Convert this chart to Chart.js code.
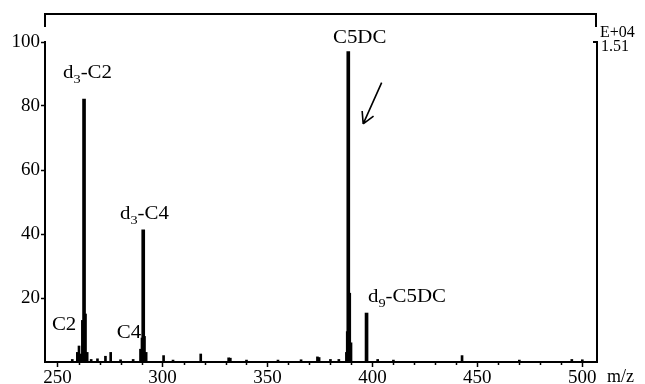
<!DOCTYPE html>
<html>
<head>
<meta charset="utf-8">
<script src="https://cdn.jsdelivr.net/npm/chart.js@4.4.1/dist/chart.umd.min.js"></script>
<style>
  html, body { margin: 0; padding: 0; background: #fff; }
  #wrap { width: 645px; height: 384px; }
</style>
</head>
<body>
<div id="wrap"><canvas id="ms"></canvas></div>
<script>
// ---- Data ----
// main peaks
const peakMz  = [262.6, 290.8, 388.5, 397.2];
const peakInt = [82.2, 41.3, 97.0, 15.3];
// shoulders / unlabelled analytes and baseline noise
const minorMz  = [257.0, 259.4, 260.2, 261.0, 261.8, 263.3, 264.1, 266.0, 269.0, 272.8, 275.3, 280.0, 286.0,
                  289.5, 290.2, 291.4, 292.2, 300.5, 305.0, 318.2, 331.5, 332.3, 340.0, 355.0, 366.0,
                  373.8, 374.6, 380.0, 384.0, 387.6, 388.0, 389.2, 389.8, 402.5, 410.0, 442.7, 470.0, 495.0, 500.0];
const minorInt = [0.8, 3.0, 5.0, 2.5, 13.0, 15.0, 3.0, 0.8, 1.0, 1.8, 3.0, 0.7, 0.8,
                  4.0, 7.5, 8.0, 3.0, 2.0, 0.6, 2.5, 1.3, 1.2, 0.6, 0.6, 0.7,
                  1.6, 1.4, 0.8, 0.8, 3.0, 9.5, 21.5, 6.0, 0.8, 0.6, 2.0, 0.6, 0.8, 0.7];

// axes
const xMin = 244, xMax = 507;
const xMajorTicks = [250, 300, 350, 400, 450, 500];
const xMinorTicks = [260, 270, 280, 290, 310, 320, 330, 340, 360, 370, 380, 390, 410, 420, 430, 440, 460, 470, 480, 490];
const yTicks = [0, 20, 40, 60, 80, 100];

// peak labels: '_' marks a one-character subscript; anchor = [m/z, intensity] of text left/baseline
const labelText   = ['d_3-C2', 'd_3-C4', 'C5DC', 'd_9-C5DC', 'C2', 'C4'];
const labelAnchor = [[252.6, 88.8], [279.7, 44.6], [381.2, 99.6], [397.9, 18.7], [247.3, 10.0], [278.2, 7.6]];
const arrowFrom = [404.4, 87.3];
const arrowTo   = [395.6, 74.4];
const scaleNote = ['E+04', '1.51'];
const xUnit = 'm/z';

const FONT = "'Liberation Serif', 'Times New Roman', serif";
const STRETCH = 1.1; // the original lettering is a little wide

// draw text left/baseline at (x, y), widened; returns advance width
function wideText(ctx, str, x, y, k = STRETCH) {
    ctx.save();
    ctx.translate(x, y);
    ctx.scale(k, 1);
    ctx.fillText(str, 0, 0);
    ctx.restore();
    return ctx.measureText(str).width * k;
}

// ---- Decorations: frame, right axis, minor ticks, labels, arrow ----
const decor = {
    id: 'decor',
    afterDraw(chart) {
        const { ctx, chartArea: a, scales } = chart;
        const xs = scales.x, ys = scales.y;
        ctx.save();
        ctx.strokeStyle = '#000';
        ctx.fillStyle = '#000';
        ctx.lineWidth = 2;
        ctx.lineCap = 'butt';

        // top bracket frame
        const fTop = a.top - 28;
        ctx.beginPath();
        ctx.moveTo(a.left, fTop + 13);
        ctx.lineTo(a.left, fTop);
        ctx.lineTo(a.right - 1, fTop);
        ctx.lineTo(a.right - 1, fTop + 13);
        ctx.stroke();

        // right axis with tick at top
        ctx.beginPath();
        ctx.moveTo(a.right - 4, a.top);
        ctx.lineTo(a.right, a.top);
        ctx.lineTo(a.right, a.bottom + 1);
        ctx.stroke();

        // minor x ticks
        ctx.lineWidth = 1.5;
        xMinorTicks.forEach(v => {
            const px = Math.round(xs.getPixelForValue(v)) + 0.5;
            ctx.beginPath();
            ctx.moveTo(px, a.bottom);
            ctx.lineTo(px, a.bottom + 3);
            ctx.stroke();
        });

        // peak labels
        const big = '19px ' + FONT, small = '13px ' + FONT;
        ctx.textBaseline = 'alphabetic';
        ctx.textAlign = 'left';
        labelText.forEach((t, i) => {
            let x = xs.getPixelForValue(labelAnchor[i][0]);
            const y = ys.getPixelForValue(labelAnchor[i][1]);
            const parts = t.split('_');
            ctx.font = big;
            x += wideText(ctx, parts[0], x, y);
            if (parts.length > 1) {
                const sub = parts[1].charAt(0), rest = parts[1].slice(1);
                ctx.font = small;
                x += wideText(ctx, sub, x, y + 5);
                ctx.font = big;
                wideText(ctx, rest, x, y);
            }
        });

        // arrow
        const x0 = xs.getPixelForValue(arrowFrom[0]), y0 = ys.getPixelForValue(arrowFrom[1]);
        const x1 = xs.getPixelForValue(arrowTo[0]),   y1 = ys.getPixelForValue(arrowTo[1]);
        const ang = Math.atan2(y0 - y1, x0 - x1);
        ctx.lineWidth = 1.6;
        ctx.beginPath();
        ctx.moveTo(x0, y0);
        ctx.lineTo(x1, y1);
        [-0.5, 0.5].forEach(d => {
            ctx.moveTo(x1, y1);
            ctx.lineTo(x1 + 13 * Math.cos(ang + d), y1 + 13 * Math.sin(ang + d));
        });
        ctx.stroke();

        // scale note at right and unit
        ctx.font = '16px ' + FONT;
        wideText(ctx, scaleNote[0], a.right + 3, a.top - 5, 1);
        wideText(ctx, scaleNote[1], a.right + 4, a.top + 9, 1);
        ctx.font = '18px ' + FONT;
        wideText(ctx, xUnit, a.right + 10, a.bottom + 20, 1);

        ctx.restore();
    }
};

new Chart(document.getElementById('ms'), {
    type: 'bar',
    data: {
        datasets: [
            {
                data: peakMz.map((m, i) => ({ x: m, y: peakInt[i] })),
                backgroundColor: '#000',
                barThickness: 3,
                grouped: false,
            },
            {
                data: minorMz.map((m, i) => ({ x: m, y: minorInt[i] })),
                backgroundColor: '#000',
                barThickness: 2,
                grouped: false,
            },
        ],
    },
    options: {
        responsive: true,
        maintainAspectRatio: false,
        animation: false,
        layout: { padding: { top: 42, right: 48, left: 0, bottom: 0 } },
        plugins: { legend: { display: false }, tooltip: { enabled: false } },
        scales: {
            x: {
                type: 'linear',
                offset: false,
                min: xMin,
                max: xMax,
                afterBuildTicks: (s) => { s.ticks = xMajorTicks.map(v => ({ value: v })); },
                afterFit: (s) => { s.height = 22; },
                grid: { offset: false, drawOnChartArea: false, tickLength: 5, tickWidth: 1.5, tickColor: '#000' },
                border: { display: true, color: '#000', width: 2 },
                ticks: { color: '#000', padding: 0, maxRotation: 0, font: { family: FONT, size: 19 } },
            },
            y: {
                min: 0,
                max: 100,
                afterBuildTicks: (s) => { s.ticks = yTicks.map(v => ({ value: v })); },
                afterFit: (s) => { s.width = 45; },
                grid: {
                    drawOnChartArea: false,
                    tickLength: 4,
                    tickWidth: 1.5,
                    tickColor: (c) => (c.tick && c.tick.value === 0 ? 'rgba(0,0,0,0)' : '#000'),
                },
                border: { display: true, color: '#000', width: 2 },
                ticks: {
                    color: '#000',
                    padding: 1,
                    font: { family: FONT, size: 19 },
                    callback: (v) => (v === 0 ? '' : v),
                },
            },
        },
    },
    plugins: [decor],
});
</script>
</body>
</html>
